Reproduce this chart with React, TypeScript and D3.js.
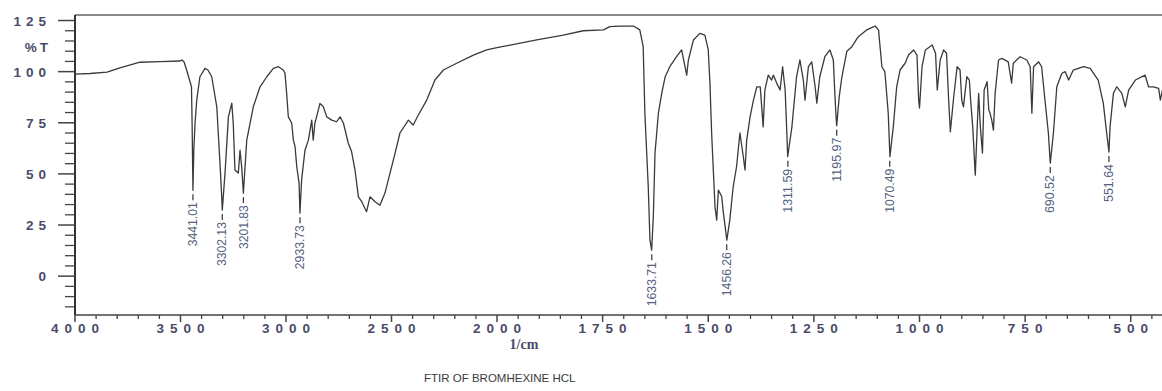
import React from 'react';
import * as d3 from 'd3';

// Spectrum: wavenumber (1/cm) and %T
const wavenumbers = [
  4000, 3929, 3848, 3787, 3692, 3597, 3502, 3493, 3483, 3471, 3460, 3448, 3445, 3441, 3437, 3431, 3423, 3408, 3384, 3370,
  3352, 3328, 3313, 3305, 3302, 3289, 3273, 3257, 3250, 3242, 3226, 3218, 3210, 3202, 3186, 3155, 3123, 3091, 3060, 3036,
  3013, 3005, 2997, 2989, 2973, 2965, 2957, 2949, 2938, 2934, 2926, 2910, 2894, 2878, 2871, 2863, 2855, 2839, 2823, 2807,
  2783, 2760, 2744, 2728, 2705, 2689, 2673, 2657, 2641, 2618, 2602, 2578, 2555, 2531, 2507, 2483, 2460, 2420, 2397, 2373,
  2333, 2294, 2254, 2191, 2112, 2049, 2000, 1969, 1906, 1843, 1796, 1748, 1733, 1709, 1677, 1662, 1654, 1650, 1642, 1638,
  1634, 1630, 1626, 1618, 1610, 1602, 1591, 1575, 1563, 1555, 1551, 1547, 1535, 1520, 1508, 1500, 1496, 1492, 1484, 1480,
  1476, 1468, 1465, 1456, 1449, 1441, 1433, 1425, 1417, 1413, 1409, 1401, 1393, 1385, 1377, 1370, 1366, 1358, 1350, 1346,
  1338, 1330, 1324, 1318, 1314, 1312, 1302, 1291, 1283, 1275, 1271, 1263, 1255, 1247, 1243, 1236, 1224, 1212, 1204, 1200,
  1198, 1196, 1190, 1184, 1172, 1160, 1145, 1125, 1105, 1097, 1089, 1082, 1074, 1070, 1062, 1054, 1046, 1034, 1026, 1014,
  1006, 1002, 1000, 994, 986, 970, 962, 958, 951, 943, 936, 931, 927, 919, 911, 904, 900, 896, 888, 882,
  879, 874, 868, 864, 860, 856, 851, 847, 840, 836, 833, 829, 825, 821, 813, 805, 790, 782, 778, 762,
  746, 738, 734, 730, 718, 711, 703, 695, 690.5, 683, 675, 663, 655, 647, 636, 612, 596, 577, 565, 557,
  551.6, 549, 541, 533, 521, 513, 505, 489, 466, 458, 446, 434, 430, 425, 415,
];
const transmittance = [
  98.8, 99.1, 99.8, 101.8, 104.6, 104.9, 105.2, 105.7, 104.7, 100.8, 96.9, 92.6, 74.9, 42.0, 61.6, 74.9, 86.1, 97.5, 101.6, 100.8,
  97.5, 82.8, 55.3, 39.6, 32.3, 50.4, 77.9, 84.6, 74.9, 51.9, 50.4, 61.6, 53.3, 40.6, 66.5, 82.8, 92.6, 97.5, 101.6, 102.4,
  100.8, 99.3, 89.5, 77.9, 74.9, 66.5, 63.3, 53.5, 45.5, 30.8, 47.0, 61.6, 66.5, 76.3, 66.5, 74.9, 77.9, 84.5, 82.8, 77.9,
  76.3, 75.5, 77.9, 74.9, 65.1, 60.8, 51.9, 38.8, 36.4, 31.5, 38.8, 36.4, 34.7, 40.6, 50.4, 60.2, 70.0, 76.3, 73.9, 78.8,
  86.1, 95.9, 100.8, 104.1, 108.1, 110.6, 111.8, 113.0, 115.5, 117.9, 120.0, 120.4, 122.0, 122.3, 122.3, 120.4, 112.2, 79.7, 43.7, 17.6,
  12.7, 29.0, 60.2, 79.7, 89.5, 97.5, 102.4, 107.3, 110.6, 102.4, 98.3, 105.7, 115.5, 118.7, 117.9, 110.6, 94.4, 70.0, 33.9, 27.4,
  42.1, 38.8, 32.3, 17.6, 27.4, 43.7, 53.5, 70.0, 58.4, 51.9, 66.5, 77.9, 86.1, 92.6, 92.6, 73.0, 91.0, 98.3, 95.9, 98.3,
  94.4, 91.0, 102.4, 91.0, 70.0, 58.4, 73.0, 97.5, 105.7, 95.9, 86.1, 102.4, 104.8, 92.6, 84.6, 97.5, 107.3, 110.6, 105.7, 87.7,
  79.7, 73.6, 87.7, 97.0, 110.0, 112.2, 117.1, 120.4, 122.3, 120.4, 102.4, 100.0, 79.7, 58.4, 73.0, 92.6, 100.8, 104.1, 108.1, 110.6,
  108.1, 86.1, 82.2, 102.4, 110.6, 113.0, 109.0, 91.0, 105.7, 110.6, 109.0, 86.1, 70.6, 87.7, 102.4, 100.8, 86.1, 82.8, 97.5, 95.9,
  86.1, 73.0, 49.4, 70.0, 89.4, 73.0, 60.2, 91.0, 95.1, 81.2, 79.7, 76.3, 71.4, 89.4, 105.7, 106.5, 104.8, 94.4, 104.1, 107.3,
  105.7, 102.4, 79.7, 102.4, 104.8, 102.4, 86.1, 70.0, 55.3, 70.0, 92.6, 99.2, 100.0, 95.9, 100.8, 102.4, 101.6, 95.9, 84.6, 70.0,
  60.7, 73.0, 89.4, 92.6, 89.4, 82.8, 91.0, 95.9, 98.3, 92.6, 92.6, 91.8, 86.1, 91.0, 92.0,
];

const xTickValues = [4000, 3500, 3000, 2500, 2000, 1750, 1500, 1250, 1000, 750, 500];
const yTickValues = [0, 25, 50, 75, 100, 125];
const peakWavenumbers = [3441.01, 3302.13, 3201.83, 2933.73, 1633.71, 1456.26, 1311.59, 1195.97, 1070.49, 690.52, 551.64];
const peakTransmittance = [42.0, 32.3, 40.6, 30.8, 12.7, 17.6, 58.4, 73.6, 58.4, 55.3, 60.7];
const peakLabels = ['3441.01', '3302.13', '3201.83', '2933.73', '1633.71', '1456.26', '1311.59', '1195.97', '1070.49', '690.52', '551.64'];
const yAxisTitle = '%T';
const xAxisTitle = '1/cm';
const chartTitle = 'FTIR OF BROMHEXINE HCL';

export default function App() {
  const W = 1162;
  const H = 391;
  const left = 75;
  const top = 15;
  const bottom = 315;

  const x = d3.scaleLinear().domain([4000, 2000, 400]).range([75, 497, 1173]);
  const y = d3.scaleLinear().domain([-19, 127.7]).range([bottom, top]);

  const pts = wavenumbers.map((w, i) => [w, transmittance[i]] as [number, number]);
  const line = d3
    .line<[number, number]>()
    .x((d) => x(d[0]))
    .y((d) => y(d[1]));

  const xMinor = [
    ...d3.range(4000, 2000, -100),
    ...d3.range(2000, 399, -50),
  ].filter((v) => !xTickValues.includes(v));
  const yMinor = d3.range(-15, 126, 5).filter((v) => !yTickValues.includes(v));

  const labelColor = '#4a4a68';
  const peakColor = '#55607e';

  return (
    <svg
      width={W}
      height={H}
      style={{ position: 'absolute', left: 0, top: 0, background: '#fff' }}
    >
      <defs>
        <clipPath id="plot">
          <rect x={left} y={top} width={W - left} height={bottom - top} />
        </clipPath>
      </defs>

      {/* frame */}
      <line x1={left} x2={W} y1={top} y2={top} stroke="#8a8a8a" strokeWidth={2} />
      <line x1={left} x2={left} y1={top} y2={bottom} stroke="#333" strokeWidth={2} />
      <line x1={left} x2={W} y1={bottom} y2={bottom} stroke="#444" strokeWidth={1.6} />

      {/* y ticks */}
      {yTickValues.map((v) => (
        <g key={'yt' + v}>
          <line x1={58} x2={left} y1={y(v)} y2={y(v)} stroke="#444" strokeWidth={1.5} />
          <text
            x={51}
            y={y(v) + 5}
            textAnchor="end"
            fontFamily="Liberation Sans, Arial, sans-serif"
            fontWeight="bold"
            fontSize={13.5}
            letterSpacing={5}
            fill={labelColor}
          >
            {v}
          </text>
        </g>
      ))}
      {yMinor.map((v) => (
        <line key={'ym' + v} x1={65} x2={left} y1={y(v)} y2={y(v)} stroke="#444" strokeWidth={1.3} />
      ))}
      <text
        x={51}
        y={52}
        textAnchor="end"
        fontFamily="Liberation Sans, Arial, sans-serif"
        fontWeight="bold"
        fontSize={13.5}
        letterSpacing={3}
        fill={labelColor}
      >
        {yAxisTitle}
      </text>

      {/* x ticks */}
      {xTickValues.map((v) => (
        <g key={'xt' + v}>
          <line x1={x(v)} x2={x(v)} y1={bottom} y2={bottom + 7} stroke="#444" strokeWidth={1.5} />
          <text
            x={x(v) + 3}
            y={333}
            textAnchor="middle"
            fontFamily="Liberation Sans, Arial, sans-serif"
            fontWeight="bold"
            fontSize={13.5}
            letterSpacing={6}
            fill={labelColor}
          >
            {v}
          </text>
        </g>
      ))}
      {xMinor.map((v) => (
        <line key={'xm' + v} x1={x(v)} x2={x(v)} y1={bottom} y2={bottom + 4} stroke="#444" strokeWidth={1.3} />
      ))}
      <text
        x={524}
        y={349}
        textAnchor="middle"
        fontFamily="Liberation Serif, Times New Roman, serif"
        fontWeight="bold"
        fontSize={14}
        fill={labelColor}
      >
        {xAxisTitle}
      </text>

      {/* spectrum */}
      <path
        d={line(pts) || ''}
        fill="none"
        stroke="#3a3a3a"
        strokeWidth={1.3}
        strokeLinejoin="round"
        clipPath="url(#plot)"
      />

      {/* peak labels */}
      {peakWavenumbers.map((w, i) => {
        const px = x(w);
        const py = y(peakTransmittance[i]);
        const tTop = py + 12;
        return (
          <g key={'pk' + i}>
            <line x1={px} x2={px} y1={py + 4} y2={py + 10} stroke="#333" strokeWidth={1.2} />
            <text
              transform={`translate(${px},${tTop}) rotate(-90)`}
              textAnchor="end"
              dy="0.35em"
              fontFamily="Liberation Sans Narrow, Liberation Sans, Arial, sans-serif"
              fontSize={12}
              textLength={peakLabels[i].length > 6 ? 44 : 38}
              lengthAdjust="spacingAndGlyphs"
              fill={peakColor}
            >
              {peakLabels[i]}
            </text>
          </g>
        );
      })}

      {/* title */}
      <text
        x={424}
        y={382}
        textAnchor="start"
        fontFamily="Liberation Sans, Arial, sans-serif"
        fontSize={11.5}
        fill="#3a3a3a"
      >
        {chartTitle}
      </text>
    </svg>
  );
}
